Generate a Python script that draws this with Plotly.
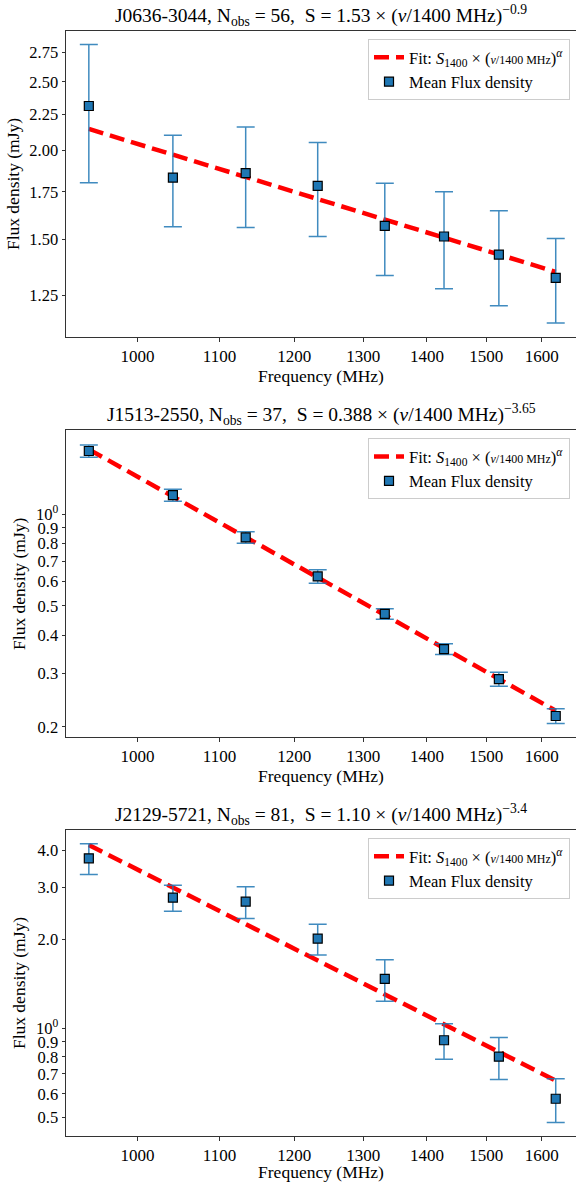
import plotly.graph_objects as go

# ---------------- data ----------------
freqs = [945, 1042, 1134, 1233, 1333, 1428, 1522, 1626]

psr_names = ["J0636-3044", "J1513-2550", "J2129-5721"]
n_obs = [56, 37, 81]
s1400_txt = ["1.53", "0.388", "1.10"]
alpha_txt = ["\u22120.9", "\u22123.65", "\u22123.4"]

flux_j0636 = [2.312, 1.833, 1.859, 1.784, 1.567, 1.514, 1.428, 1.324]
err_j0636 = [0.51, 0.27, 0.30, 0.27, 0.233, 0.236, 0.218, 0.18]
fit_j0636 = [2.146, 1.350]

flux_j1513 = [1.610, 1.154, 0.838, 0.624, 0.470, 0.3604, 0.2873, 0.2173]
err_j1513 = [0.075, 0.052, 0.036, 0.032, 0.019, 0.0145, 0.015, 0.012]
fit_j1513 = [1.63, 0.226]

flux_j2129 = [3.77, 2.772, 2.687, 2.013, 1.470, 0.911, 0.801, 0.577]
err_j2129 = [0.45, 0.28, 0.33, 0.24, 0.236, 0.126, 0.13, 0.098]
fit_j2129 = [4.18, 0.665]

xtick_vals = [1000, 1100, 1200, 1300, 1400, 1500, 1600]
ytick_vals = [
    [1.25, 1.5, 1.75, 2.0, 2.25, 2.5, 2.75],
    [0.2, 0.3, 0.4, 0.5, 0.6, 0.7, 0.8, 0.9, 1.0],
    [0.5, 0.6, 0.7, 0.8, 0.9, 1.0, 2.0, 3.0, 4.0],
]
ytick_text = [
    ["1.25", "1.50", "1.75", "2.00", "2.25", "2.50", "2.75"],
    ["0.2", "0.3", "0.4", "0.5", "0.6", "0.7", "0.8", "0.9", "10<sup>0</sup>"],
    ["0.5", "0.6", "0.7", "0.8", "0.9", "10<sup>0</sup>", "2.0", "3.0", "4.0"],
]

# ---------------- layout geometry (pixels) ----------------
W, H = 576, 1182
ax_left_px, ax_right_px = 66, 576
ax_tops = [31, 430.3, 830]
ax_bots = [337, 737.3, 1136]
x_range = [2.96391, 3.22135]
y_ranges = [[0.0386, 0.4696], [-0.7329, 0.2747], [-0.3651, 0.6722]]

FONT = "Liberation Serif"
BLUE = "#1f77b4"

fluxes = [flux_j0636, flux_j1513, flux_j2129]
errs = [err_j0636, err_j1513, err_j2129]
fits = [fit_j0636, fit_j1513, fit_j2129]

fig = go.Figure()
legend_fit = ("Fit: <i>S</i><sub>1400</sub> × "
              "(<span style='font-size:12px'><i>ν</i>/1400 MHz</span>)<sup><i>α</i></sup>")

for i in range(3):
    sfx = "" if i == 0 else str(i + 1)
    leg = "legend" if i == 0 else f"legend{i + 1}"
    fig.add_trace(go.Scatter(
        x=[freqs[0], freqs[-1]], y=fits[i], mode="lines",
        line=dict(color="red", width=4.5, dash="15px,7px"),
        name=legend_fit, xaxis="x" + sfx, yaxis="y" + sfx, legend=leg,
    ))
    fig.add_trace(go.Scatter(
        x=freqs, y=fluxes[i], mode="markers",
        marker=dict(symbol="square", size=9, color=BLUE,
                    line=dict(color="black", width=1.2)),
        error_y=dict(type="data", array=errs[i], visible=True,
                     color="rgba(31,119,180,0.85)", thickness=1.5, width=9),
        name="Mean Flux density", xaxis="x" + sfx, yaxis="y" + sfx, legend=leg,
    ))

layout = dict(
    width=W, height=H,
    margin=dict(l=0, r=0, t=0, b=0),
    paper_bgcolor="white", plot_bgcolor="white",
    font=dict(family=FONT, size=17, color="black"),
    showlegend=True,
    annotations=[],
)

for i in range(3):
    sfx = "" if i == 0 else str(i + 1)
    dom_y = [1 - ax_bots[i] / H, 1 - ax_tops[i] / H]
    layout["xaxis" + sfx] = dict(
        type="log", range=x_range, domain=[ax_left_px / W, ax_right_px / W],
        anchor="y" + sfx, tickvals=xtick_vals, ticktext=[str(v) for v in xtick_vals],
        ticks="outside", ticklen=3.5, tickwidth=1, tickcolor="#333",
        showline=True, linecolor="#333", linewidth=1, mirror=True,
        showgrid=False, zeroline=False,
        tickfont=dict(family=FONT, size=17),
        title=dict(text="Frequency (MHz)", font=dict(family=FONT, size=17.5), standoff=0),
    )
    layout["yaxis" + sfx] = dict(
        type="log", range=y_ranges[i], domain=dom_y, anchor="x" + sfx,
        tickvals=ytick_vals[i], ticktext=ytick_text[i],
        ticks="outside", ticklen=3.5, tickwidth=1, tickcolor="#333",
        showline=True, linecolor="#333", linewidth=1, mirror=False,
        showgrid=False, zeroline=False,
        tickfont=dict(family=FONT, size=16.5),
        title=dict(text="Flux density (mJy)", font=dict(family=FONT, size=17.5), standoff=5),
    )
    leg = "legend" if i == 0 else f"legend{i + 1}"
    layout[leg] = dict(
        x=570 / W, xanchor="right", y=1 - (ax_tops[i] + 8) / H, yanchor="top",
        bgcolor="rgba(255,255,255,0.8)", bordercolor="#cccccc", borderwidth=1,
        font=dict(family=FONT, size=16.5), tracegroupgap=0,
    )
    title = (f"{psr_names[i]}, N<sub>obs</sub> = {n_obs[i]},  S = {s1400_txt[i]} × "
             f"(<i>ν</i>/1400 MHz)<sup>{alpha_txt[i]}</sup>")
    layout["annotations"].append(dict(
        text=title, xref="paper", yref="paper",
        x=(ax_left_px + ax_right_px) / 2 / W, y=1 - ax_tops[i] / H,
        xanchor="center", yanchor="bottom", yshift=0, showarrow=False,
        font=dict(family=FONT, size=19.5),
    ))

fig.update_layout(**layout)
fig.write_html("out.html")
